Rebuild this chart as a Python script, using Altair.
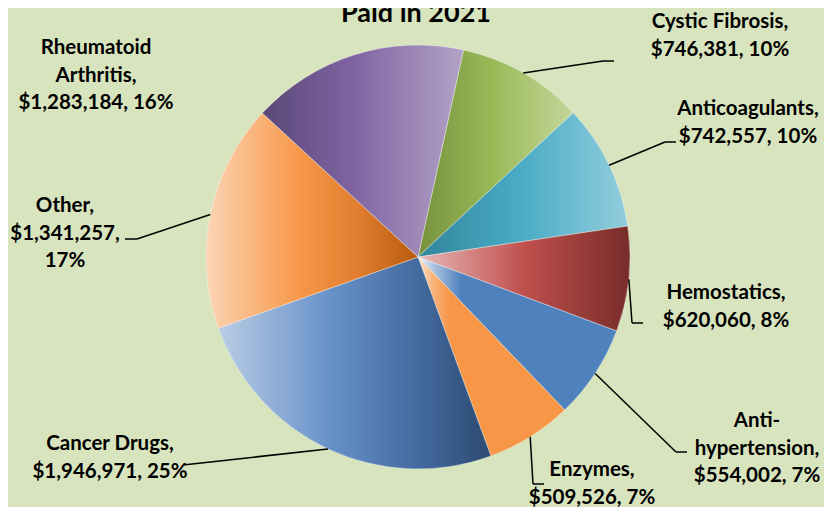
import math
import altair as alt
import pandas as pd

# ---------------- data ----------------
categories = ["Cystic Fibrosis", "Anticoagulants", "Hemostatics", "Anti-hypertension",
              "Enzymes", "Cancer Drugs", "Other", "Rheumatoid Arthritis"]
amounts = [746381, 742557, 620060, 554002, 509526, 1946971, 1341257, 1283184]
percents = [10, 10, 8, 7, 7, 25, 17, 16]
name_lines = [["Cystic Fibrosis,"], ["Anticoagulants,"], ["Hemostatics,"], ["Anti-", "hypertension,"],
              ["Enzymes,"], ["Cancer Drugs,"], ["Other,"], ["Rheumatoid", "Arthritis,"]]
split_value_line = [False, False, False, False, False, False, True, False]
title_text = "Paid in 2021"

# ---------------- layout (px, relative to pie centre, y downwards) ----------------
R = 212
START = math.radians(12.4)
W, H = 816, 499
CX, CY = 410, 249
label_pos = [(302, -236), (330, -149), (308, 35), (339, 163),
             (174, 212), (-308, 186), (-353, -52), (-322, -210)]
leader_elbow = [(185, -196), (247, -115), (214, 66), (258, 195),
                (115, 227), (-235, 208), (-281, -18), None]
leader_end = [(196, -196), (258, -115), (225, 66), (269, 195),
              (126, 227), (-235, 208), (-293, -18), None]

gradients = [
    [("#76923c", 0), ("#9bbb59", 0.5), ("#c3d69b", 1)],
    [("#31859c", 0), ("#4bacc6", 0.5), ("#92cddc", 1)],
    [("#e6b9b8", 0), ("#c0504d", 0.5), ("#772c2a", 1)],
    [("#eef3fa", 0), ("#9db8dc", 0.1), ("#4f81bd", 0.22), ("#4f81bd", 1)],
    [("#fde6d2", 0), ("#fab37a", 0.1), ("#f79646", 0.22), ("#f79646", 1)],
    [("#b9cde5", 0), ("#6690c8", 0.42), ("#42689b", 0.75), ("#2c4a72", 1)],
    [("#fcd5b5", 0), ("#f79646", 0.45), ("#e07d2e", 0.72), ("#b85a0a", 1)],
    [("#5a4878", 0), ("#8064a2", 0.45), ("#b3a2c7", 1)],
]

rows = []
for i, cat in enumerate(categories):
    if split_value_line[i]:
        vlines = [f"${amounts[i]:,},", f"{percents[i]}%"]
    else:
        vlines = [f"${amounts[i]:,}, {percents[i]}%"]
    el = leader_elbow[i]
    en = leader_end[i]
    rows.append({
        "idx": i,
        "category": cat,
        "amount": amounts[i],
        "label": "\n".join(name_lines[i] + vlines),
        "lx": label_pos[i][0], "ly": label_pos[i][1],
        "bx": el[0] if el else None, "by": el[1] if el else None,
        "ex": en[0] if en else None,
    })
df = pd.DataFrame(rows)

xs = alt.Scale(domain=[-CX, W - CX], nice=False, zero=False)
ys = alt.Scale(domain=[-CY, H - CY], nice=False, zero=False, reverse=True)
ts = alt.Scale(domain=[0, 1], range=[START, START + 2 * math.pi])

base = (
    alt.Chart(df)
    .transform_joinaggregate(total="sum(amount)")
    .transform_window(cum="sum(amount)", sort=[alt.SortField("idx")], frame=[None, 0])
    .transform_calculate(c0="(datum.cum - datum.amount) / datum.total",
                         c1="datum.cum / datum.total")
    .transform_calculate(mid=f"{START} + PI * (datum.c0 + datum.c1)")
    .transform_calculate(sx=f"{R} * sin(datum.mid)", sy=f"-{R} * cos(datum.mid)",
                         lines="split(datum.label, '\\n')")
)

layers = []
for i, cat in enumerate(categories):
    grad = alt.LinearGradient(
        gradient="linear",
        stops=[alt.GradientStop(color=c, offset=o) for c, o in gradients[i]],
        x1=0, x2=1, y1=0, y2=0,
    )
    layers.append(
        base.transform_filter(alt.datum.category == cat)
        .mark_arc(radius=R, fill=grad, stroke="#ffffff", strokeWidth=0.6, strokeOpacity=0.6)
        .encode(
            theta=alt.Theta("c0:Q", scale=ts),
            theta2="c1:Q",
            x=alt.XDatum(0, type="quantitative", scale=xs, axis=None),
            y=alt.YDatum(0, type="quantitative", scale=ys, axis=None),
        )
    )

leaders1 = (
    base.transform_filter("isValid(datum.bx)")
    .mark_rule(color="#000000", strokeWidth=1.5)
    .encode(
        x=alt.X("sx:Q", scale=xs, axis=None),
        y=alt.Y("sy:Q", scale=ys, axis=None),
        x2="bx:Q",
        y2="by:Q",
    )
)
leaders2 = (
    base.transform_filter("isValid(datum.bx)")
    .mark_rule(color="#000000", strokeWidth=1.5)
    .encode(
        x=alt.X("bx:Q", scale=xs, axis=None),
        y=alt.Y("by:Q", scale=ys, axis=None),
        x2="ex:Q",
    )
)

labels = (
    base.mark_text(font="Lato", fontWeight="bold", fontSize=20.5, lineHeight=27.5,
                   align="center", baseline="top", dy=-9, color="#000000")
    .encode(
        x=alt.X("lx:Q", scale=xs, axis=None),
        y=alt.Y("ly:Q", scale=ys, axis=None),
        text="lines:N",
    )
)

title = (
    alt.Chart(pd.DataFrame({"t": [title_text]}))
    .mark_text(font="Lato", fontWeight="bold", fontSize=27, align="center",
               baseline="alphabetic", color="#000000")
    .encode(
        x=alt.XDatum(-2, type="quantitative", scale=xs, axis=None),
        y=alt.YDatum(-235, type="quantitative", scale=ys, axis=None),
        text="t:N",
    )
)

chart = (
    alt.layer(*layers, leaders1, leaders2, labels, title)
    .properties(width=W, height=H, background="#d7e4bd", padding=0,
                autosize=alt.AutoSizeParams(type="none"))
    .configure_view(stroke=None)
)

chart.save("out.html", embed_options={"renderer": "svg", "actions": False})
